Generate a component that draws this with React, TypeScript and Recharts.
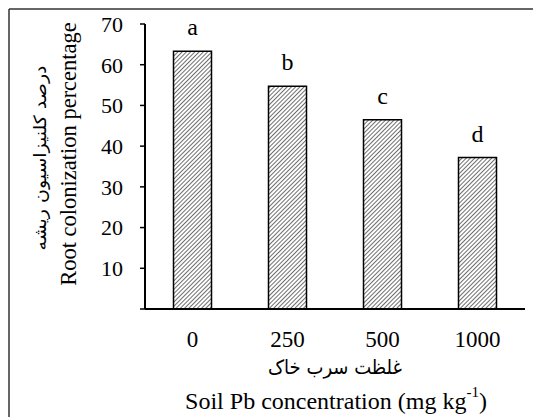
import { Bar, BarChart, LabelList, XAxis, YAxis } from "recharts";

const doses = ["0", "250", "500", "1000"];
const colonization = [63.3, 54.7, 46.5, 37.2];
const letters = ["a", "b", "c", "d"];
const yTicks = [0, 10, 20, 30, 40, 50, 60, 70];
const boundaryTicks = [0, 1, 2, 3, 4];

const data = doses.map((dose, i) => ({ dose, value: colonization[i], letter: letters[i] }));

const serif = "Liberation Serif, Times New Roman, serif";
const arabic = "DejaVu Sans, sans-serif";

export default function App() {
  return (
    <div
      style={{
        position: "absolute",
        left: 0,
        top: 0,
        width: 533,
        height: 417,
        background: "#fff",
        fontFamily: serif,
      }}
    >
      <svg width={0} height={0} style={{ position: "absolute" }}>
        <defs>
          <pattern id="hatch" width="3" height="3" patternUnits="userSpaceOnUse" patternTransform="rotate(45)">
            <rect width="3" height="3" fill="#fff" />
            <line x1="0" y1="0" x2="0" y2="3" stroke="#4a4a4a" strokeWidth={1.6} />
          </pattern>
        </defs>
      </svg>
      <BarChart
        width={533}
        height={417}
        data={data}
        margin={{ top: 24, right: 8, left: 0, bottom: 63 }}
        barCategoryGap="30%"
        style={{ fontFamily: serif }}
      >
        {/* boundary ticks between the categories */}
        <XAxis
          xAxisId={0}
          type="number"
          domain={[0, 4]}
          ticks={boundaryTicks}
          allowDataOverflow
          height={5}
          tick={false}
          tickSize={5}
          axisLine={{ stroke: "#000", strokeWidth: 2 }}
          tickLine={{ stroke: "#000", strokeWidth: 1.5 }}
        />
        <XAxis
          xAxisId={1}
          dataKey="dose"
          height={40}
          axisLine={false}
          tickLine={false}
          tickSize={0}
          tickMargin={17}
          tick={{ fontSize: 23, fill: "#000", style: { fontFamily: serif } }}
        />
        <YAxis
          width={145}
          domain={[0, 70]}
          ticks={yTicks}
          tickSize={5}
          tickMargin={17}
          tickFormatter={(v: number) => (v === 0 ? "" : String(v))}
          axisLine={{ stroke: "#000", strokeWidth: 2 }}
          tickLine={{ stroke: "#000", strokeWidth: 1.5 }}
          tick={{ fontSize: 22, fill: "#000", style: { fontFamily: serif } }}
        />
        <Bar
          xAxisId={1}
          dataKey="value"
          fill="url(#hatch)"
          stroke="#000"
          strokeWidth={1.5}
          isAnimationActive={false}
        >
          <LabelList
            dataKey="letter"
            position="top"
            offset={16}
            style={{ fontSize: 24, fill: "#000", fontFamily: serif }}
          />
        </Bar>
      </BarChart>
      <svg
        width={533}
        height={417}
        style={{ position: "absolute", left: 0, top: 0, pointerEvents: "none" }}
      >
        <line x1={9} y1={9} x2={533} y2={9} stroke="#333" strokeWidth={1.5} />
        <line x1={9} y1={9} x2={9} y2={417} stroke="#333" strokeWidth={1.5} />
        <text
          x={68}
          y={154}
          transform="rotate(-90 68 154)"
          textAnchor="middle"
          dominantBaseline="central"
          style={{ fontFamily: serif, fontSize: 22.5 }}
          fill="#000"
        >
          Root colonization percentage
        </text>
        <text
          x={40}
          y={158}
          transform="rotate(-90 40 158)"
          textAnchor="middle"
          dominantBaseline="central"
          textLength={185}
          lengthAdjust="spacingAndGlyphs"
          style={{ fontFamily: arabic, fontSize: 17 }}
          fill="#000"
          direction="rtl"
        >
          درصد کلنیزاسیون ریشه
        </text>
        <text
          x={335}
          y={367}
          textAnchor="middle"
          dominantBaseline="central"
          textLength={134}
          lengthAdjust="spacingAndGlyphs"
          style={{ fontFamily: arabic, fontSize: 20 }}
          fill="#000"
          direction="rtl"
        >
          غلظت سرب خاک
        </text>
        <text
          x={336}
          y={401}
          textAnchor="middle"
          dominantBaseline="central"
          style={{ fontFamily: serif, fontSize: 24 }}
          fill="#000"
        >
          Soil Pb concentration (mg kg
          <tspan style={{ fontSize: 15 }} dy={-9}>-1</tspan>
          <tspan dy={9}>)</tspan>
        </text>
      </svg>
    </div>
  );
}
